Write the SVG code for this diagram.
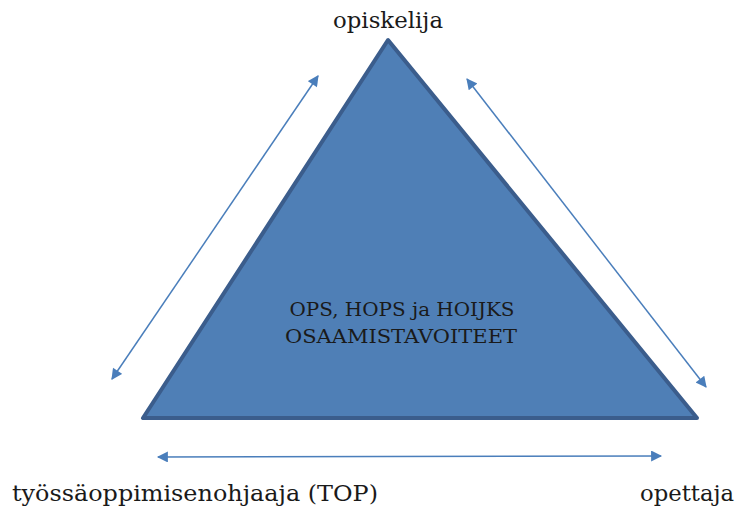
<svg xmlns="http://www.w3.org/2000/svg" width="736" height="512" viewBox="0 0 736 512">
<style>
.conn{stroke:#4a7ebb;stroke-width:1.5;fill:none;marker-start:url(#ah);marker-end:url(#ah);}
.lbl{font-family:"DejaVu Serif","Liberation Serif",serif;fill:#1a1a1a;}
</style>
<defs>
<marker id="ah" viewBox="0 0 10 10" refX="9" refY="5" markerWidth="13" markerHeight="11" orient="auto-start-reverse" markerUnits="userSpaceOnUse">
<path d="M0,0 L10,5 L0,10 Z" fill="#4a7ebb"/>
</marker>
</defs>
<rect width="736" height="512" fill="#ffffff"/>
<g id="triangle">
<polygon points="388,40 143,418 697,418" fill="#4f7fb6" stroke="#3b5d8c" stroke-width="4" stroke-linejoin="round"/>
<text class="lbl" x="402" y="316" font-size="19" text-anchor="middle" textLength="225" lengthAdjust="spacingAndGlyphs">OPS, HOPS ja HOIJKS</text>
<text class="lbl" x="401" y="343" font-size="19" text-anchor="middle" textLength="232" lengthAdjust="spacingAndGlyphs">OSAAMISTAVOITEET</text>
</g>
<g id="opiskelija">
<text class="lbl" x="388" y="28" font-size="22" text-anchor="middle" textLength="110" lengthAdjust="spacingAndGlyphs">opiskelija</text>
</g>
<g id="top">
<text class="lbl" x="12" y="501" font-size="22" textLength="366" lengthAdjust="spacingAndGlyphs">työssäoppimisenohjaaja (TOP)</text>
</g>
<g id="opettaja">
<text class="lbl" x="640" y="501" font-size="22" textLength="94" lengthAdjust="spacingAndGlyphs">opettaja</text>
</g>
<g id="connectors">
<line class="conn" x1="318" y1="76" x2="112" y2="379"/>
<line class="conn" x1="467" y1="79" x2="706" y2="387"/>
<line class="conn" x1="158" y1="457" x2="661" y2="456"/>
</g>
</svg>
